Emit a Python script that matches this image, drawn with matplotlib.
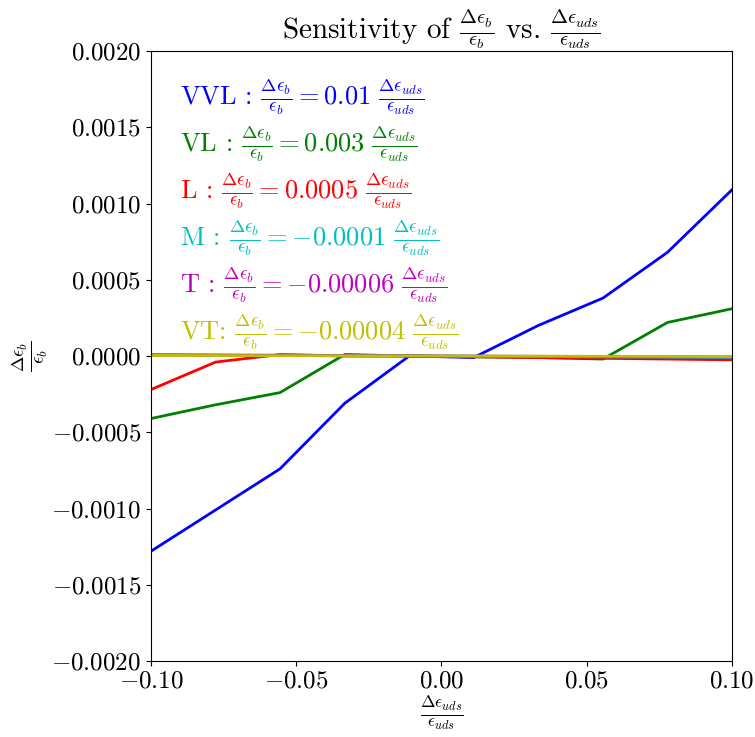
import numpy as np
import matplotlib
matplotlib.use("Agg")
import matplotlib.pyplot as plt

plt.rcParams["font.family"] = "serif"
plt.rcParams["font.serif"] = ["cmr10", "DejaVu Serif"]
plt.rcParams["mathtext.fontset"] = "cm"
plt.rcParams["axes.formatter.use_mathtext"] = True
plt.rcParams["axes.unicode_minus"] = True

# relative change of light-jet efficiency (x) and b efficiency response per working point
x_vals = [-0.1, -0.0778, -0.0556, -0.0333, -0.0111, 0.0111, 0.0333, 0.0556, 0.0778, 0.1]
vvl = [-0.00128, -0.00101, -0.00074, -0.00031, 0.0, -0.00001, 0.00020, 0.00038, 0.00068, 0.00109]
vl = [-0.00041, -0.00032, -0.00024, 0.00001, 0.0, -0.000005, -0.00001, -0.00002, 0.00022, 0.00031]
loose = [-0.00022, -0.00004, 0.00001, 0.0, 0.0, -0.000005, -0.00001, -0.000015, -0.00002, -0.000025]
medium = [0.00001, 0.0000078, 0.0000056, 0.0000033, 0.0000011, -0.0000011, -0.0000033, -0.0000056, -0.0000078, -0.00001]
tight = [0.000006, 0.0000047, 0.0000033, 0.000002, 0.0000007, -0.0000007, -0.000002, -0.0000033, -0.0000047, -0.000006]
vtight = [0.000004, 0.0000031, 0.0000022, 0.0000013, 0.0000004, -0.0000004, -0.0000013, -0.0000022, -0.0000031, -0.000004]

names = ["VVL :", "VL :", "L :", "M :", "T :", "VT:"]
slopes = ["0.01", "0.003", "0.0005", "-0.0001", "-0.00006", "-0.00004"]
colors = ["b", "g", "r", "c", "m", "y"]
series = [vvl, vl, loose, medium, tight, vtight]

fig = plt.figure(figsize=(7.55, 7.37), dpi=100)
ax = fig.add_axes([0.2, 0.1031, 0.7695, 0.8277])

for ys, c in zip(series, colors):
    ax.plot(x_vals, ys, color=c, linewidth=2)

frac_b = r"\frac{\Delta\epsilon_b}{\epsilon_b}"
frac_uds = r"\frac{\Delta\epsilon_{uds}}{\epsilon_{uds}}"
for i, (n, s, c) in enumerate(zip(names, slopes, colors)):
    ax.text(0.05, 0.925 - i * 0.077, n + " $" + frac_b + " = " + s + r"\ " + frac_uds + "$",
            transform=ax.transAxes, color=c, fontsize=19, va="center", ha="left")

ax.set_xlim(-0.1, 0.1)
ax.set_ylim(-0.002, 0.002)
ax.set_xticks(np.arange(-0.1, 0.1001, 0.05))
ax.set_yticks(np.arange(-0.002, 0.00201, 0.0005))
ax.tick_params(labelsize=18)
ax.set_title("Sensitivity of $" + frac_b + "$ vs. $" + frac_uds + "$", fontsize=21, pad=4)
ax.set_xlabel("$" + frac_uds + "$", fontsize=18, labelpad=1)
ax.set_ylabel("$" + frac_b + "$", fontsize=19, va="center")
ax.yaxis.set_label_coords(-0.208, 0.5)

plt.savefig("out.png", dpi=100)
